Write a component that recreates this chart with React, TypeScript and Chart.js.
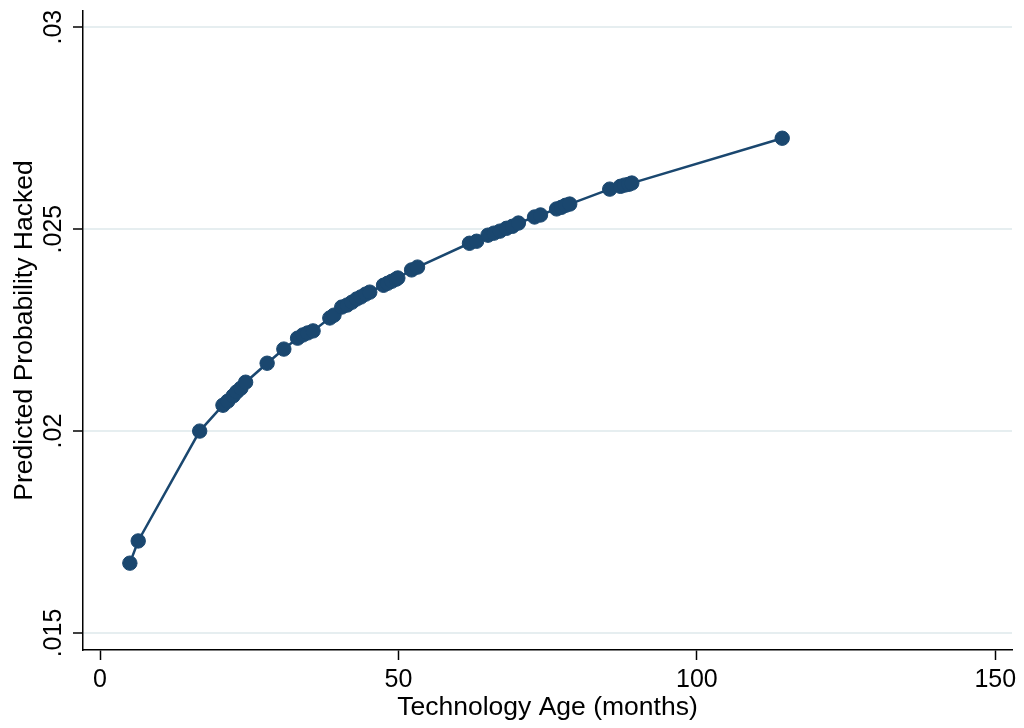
import React, { useEffect, useRef } from "react";
import { Chart, registerables } from "chart.js";

Chart.register(...registerables);

const ageMonths = [
  5.0, 6.4, 16.7, 20.6, 21.4, 22.3, 22.9, 23.6, 24.4, 28.0, 30.8, 33.1, 34.0, 34.8, 35.7,
  38.5, 39.2, 40.5, 41.4, 42.2, 43.0, 43.7, 44.5, 45.2, 47.5, 48.2, 48.9, 49.6, 49.9,
  52.2, 53.2, 61.9, 63.1, 65.0, 66.0, 67.0, 68.1, 69.1, 70.1, 72.8, 73.8, 76.5, 77.3,
  78.0, 78.7, 85.4, 87.2, 87.9, 88.6, 89.1, 114.3,
];

const predictedProb = [
  0.01673, 0.01728, 0.02, 0.02064, 0.02074, 0.02087, 0.02097, 0.02106, 0.02121, 0.02168,
  0.02203, 0.0223, 0.02238, 0.02243, 0.02248, 0.0228, 0.02287, 0.02307, 0.02312, 0.02319,
  0.02327, 0.02332, 0.02339, 0.02344, 0.02361, 0.02366, 0.02371, 0.02376, 0.02379, 0.02399,
  0.02406, 0.02465, 0.0247, 0.02485, 0.0249, 0.02495, 0.02502, 0.02507, 0.02515, 0.0253,
  0.02535, 0.0255, 0.02554, 0.02559, 0.02562, 0.02599, 0.02606, 0.02609, 0.02611, 0.02614,
  0.02725,
];

const xTicks = [0, 50, 100, 150];
const yTicks = [0.015, 0.02, 0.025, 0.03];
const yTickLabels = [".015", ".02", ".025", ".03"];

const FONT = '"Liberation Sans", Arial, Helvetica, sans-serif';
const NAVY = "#1a476f";

export default function App() {
  const ref = useRef<HTMLCanvasElement | null>(null);

  useEffect(() => {
    if (!ref.current) return;
    const yLabelPlugin = {
      id: "yRotLabels",
      afterDraw(chart: any) {
        const s = chart.scales.y;
        const ctx = chart.ctx;
        ctx.save();
        ctx.font = `25px ${FONT}`;
        ctx.fillStyle = "#000";
        ctx.textAlign = "center";
        ctx.textBaseline = "middle";
        yTicks.forEach((v, i) => {
          const py = s.getPixelForValue(v);
          ctx.save();
          ctx.translate(54, py);
          ctx.rotate(-Math.PI / 2);
          ctx.fillText(yTickLabels[i], 0, 0);
          ctx.restore();
        });
        ctx.restore();
      },
    };

    const chart = new Chart(ref.current, {
      type: "scatter",
      data: {
        datasets: [
          {
            data: ageMonths.map((x, i) => ({ x, y: predictedProb[i] })),
            showLine: true,
            borderColor: NAVY,
            borderWidth: 2.5,
            backgroundColor: NAVY,
            pointBackgroundColor: NAVY,
            pointBorderColor: NAVY,
            pointBorderWidth: 1,
            pointRadius: 7.2,
            tension: 0,
          },
        ],
      },
      options: {
        responsive: false,
        animation: false,
        layout: { padding: { left: 0, right: 12, top: 11, bottom: 0 } },
        plugins: { legend: { display: false }, tooltip: { enabled: false } },
        scales: {
          x: {
            type: "linear",
            min: -2.85,
            max: 152.8,
            afterBuildTicks: (s: any) => {
              s.ticks = xTicks.map((v) => ({ value: v }));
            },
            afterFit: (s: any) => {
              s.height = 78;
            },
            grid: {
              drawOnChartArea: false,
              drawTicks: true,
              tickLength: 10,
              tickColor: "#000",
              tickWidth: 1.5,
            },
            border: { display: true, color: "#000", width: 1.5 },
            ticks: {
              color: "#000",
              font: { family: FONT, size: 25 },
              padding: 5,
              maxRotation: 0,
              autoSkip: false,
              callback: (v: any) => String(v),
            },
            title: {
              display: true,
              text: "Technology Age (months)",
              color: "#000",
              font: { family: FONT, size: 26.5 },
              padding: { top: 0, bottom: 4 },
            },
          },
          y: {
            type: "linear",
            min: 0.01458,
            max: 0.0304,
            afterBuildTicks: (s: any) => {
              s.ticks = yTicks.map((v) => ({ value: v }));
            },
            afterFit: (s: any) => {
              s.width = 83;
            },
            grid: {
              color: "#e6eef0",
              lineWidth: 2,
              drawTicks: true,
              tickLength: 10,
              tickColor: "#000",
              tickWidth: 1.5,
            },
            border: { display: true, color: "#000", width: 1.5 },
            ticks: {
              color: "rgba(0,0,0,0)",
              font: { family: FONT, size: 1 },
              padding: 0,
              callback: () => "",
            },
            title: {
              display: true,
              text: "Predicted Probability Hacked",
              color: "#000",
              font: { family: FONT, size: 26.5 },
              padding: { top: 9, bottom: 0 },
            },
          },
        },
      },
      plugins: [yLabelPlugin],
    } as any);
    return () => chart.destroy();
  }, []);

  return (
    <div style={{ position: "fixed", left: 0, top: 0, width: 1024, height: 728, background: "#fff" }}>
      <canvas ref={ref} width={1024} height={728} style={{ width: 1024, height: 728 }} />
    </div>
  );
}
